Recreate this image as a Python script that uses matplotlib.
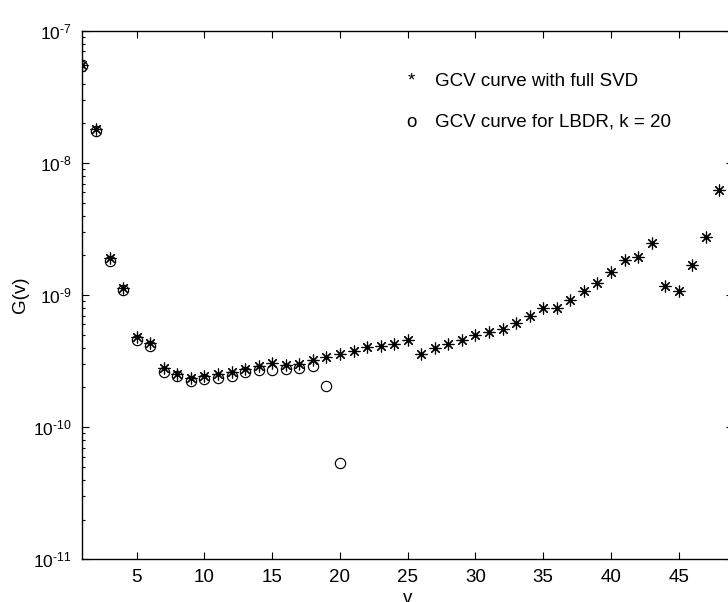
import matplotlib

matplotlib.use("Agg")
import matplotlib.pyplot as plt
from matplotlib.ticker import FuncFormatter, LogLocator, NullFormatter
import numpy as np

plt.rcParams["font.family"] = ["Liberation Sans", "DejaVu Sans"]
plt.rcParams["mathtext.fontset"] = "custom"
plt.rcParams["mathtext.rm"] = "Liberation Sans"
plt.rcParams["mathtext.it"] = "Liberation Sans:italic"
plt.rcParams["axes.unicode_minus"] = False

# GCV values with the full SVD, v = 1..48
v_full = list(range(1, 49))
g_full = [
    5.5e-8, 1.8e-8, 1.9e-9, 1.14e-9, 4.83e-10, 4.35e-10, 2.79e-10, 2.55e-10,
    2.34e-10, 2.43e-10, 2.54e-10, 2.6e-10, 2.75e-10, 2.9e-10, 3.07e-10, 2.95e-10,
    3.03e-10, 3.22e-10, 3.41e-10, 3.58e-10, 3.79e-10, 4.06e-10, 4.1e-10, 4.3e-10,
    4.56e-10, 3.61e-10, 3.95e-10, 4.3e-10, 4.56e-10, 4.98e-10, 5.27e-10, 5.59e-10,
    6.2e-10, 6.93e-10, 7.93e-10, 8.05e-10, 9.27e-10, 1.07e-9, 1.24e-9, 1.5e-9,
    1.84e-9, 1.95e-9, 2.47e-9, 1.17e-9, 1.08e-9, 1.69e-9, 2.77e-9, 6.24e-9,
]

# GCV values from the LBDR, k = 20
v_lbdr = list(range(1, 21))
g_lbdr = [
    5.4e-8, 1.75e-8, 1.82e-9, 1.1e-9, 4.6e-10, 4.1e-10, 2.6e-10, 2.45e-10,
    2.25e-10, 2.32e-10, 2.38e-10, 2.45e-10, 2.6e-10, 2.7e-10, 2.7e-10, 2.75e-10,
    2.8e-10, 2.9e-10, 2.05e-10, 5.37e-11,
]

x_ticks = [5, 10, 15, 20, 25, 30, 35, 40, 45]
legend_labels = ["GCV curve with full SVD", "GCV curve for LBDR, k = 20"]


def _pow10(val, pos):
    exp = int(round(np.log10(val)))
    if exp < 0:
        return r"$\mathdefault{10^{\text{-}%d}}$" % (-exp)
    return r"$\mathdefault{10^{%d}}$" % exp


fig = plt.figure(figsize=(7.28, 6.02), dpi=100)
ax = fig.add_axes([0.1133, 0.0709, 0.8935, 0.8776])

ax.plot(v_lbdr, g_lbdr, linestyle="none", marker="o", markersize=7.4,
        markerfacecolor="none", markeredgecolor="black", markeredgewidth=0.85)
ax.plot(v_full, g_full, linestyle="none", marker=(8, 2, 0), markersize=8.5,
        color="black", markeredgewidth=0.85)

ax.set_yscale("log")
ax.set_xlim(1, 49)
ax.set_ylim(1e-11, 1e-7)
ax.set_xticks(x_ticks)
ax.yaxis.set_major_locator(LogLocator(base=10, numticks=10))
ax.yaxis.set_major_formatter(FuncFormatter(_pow10))
ax.yaxis.set_minor_locator(LogLocator(base=10, subs=range(2, 10), numticks=10))
ax.yaxis.set_minor_formatter(NullFormatter())

ax.tick_params(axis="both", which="both", direction="in", top=True, right=True,
               width=0.8, colors="black")
ax.tick_params(axis="x", which="major", labelsize=13.5, pad=7)
ax.tick_params(axis="y", which="major", labelsize=12.5, pad=8)
ax.tick_params(axis="both", which="major", length=5)
ax.tick_params(axis="y", which="minor", length=2.5)
for spine in ax.spines.values():
    spine.set_linewidth(1.0)

ax.set_xlabel("v", fontsize=13.5)
ax.xaxis.set_label_coords(0.5, -0.058)
ax.set_ylabel("G(v)", fontsize=13.5)
ax.yaxis.set_label_coords(-0.082, 0.5)

# hand-drawn key, markers are typed as characters
ax.text(0.505, 0.905, "*", transform=ax.transAxes, fontsize=13.5,
        ha="center", va="center")
ax.text(0.542, 0.905, legend_labels[0], transform=ax.transAxes, fontsize=13.5,
        ha="left", va="center")
ax.text(0.505, 0.827, "o", transform=ax.transAxes, fontsize=13.5,
        ha="center", va="center")
ax.text(0.542, 0.827, legend_labels[1], transform=ax.transAxes, fontsize=13.5,
        ha="left", va="center")

fig.savefig("out.png", dpi=100)
